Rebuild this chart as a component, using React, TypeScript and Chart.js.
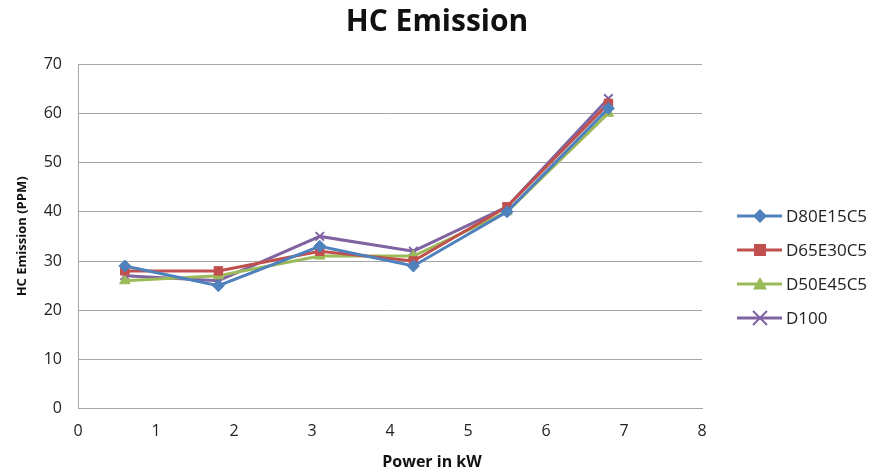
import React, { useEffect, useRef } from "react";
import { Chart, registerables } from "chart.js";

Chart.register(...registerables);

const powerKW = [0.6, 1.8, 3.1, 4.3, 5.5, 6.8];
const d80e15c5 = [29, 25, 33, 29, 40, 61];
const d65e30c5 = [28, 28, 32, 30, 41, 62];
const d50e45c5 = [26, 27, 31, 31, 40, 60];
const d100 = [27, 26, 35, 32, 41, 63];

const seriesNames = ["D80E15C5", "D65E30C5", "D50E45C5", "D100"];
const seriesValues = [d80e15c5, d65e30c5, d50e45c5, d100];
const seriesColors = ["#4F81BD", "#C0504D", "#9BBB59", "#8064A2"];
const seriesMarkers = ["rectRot", "rect", "triangle", "crossRot"];

const chartTitle = "HC Emission";
const xTitle = "Power in kW";
const yTitle = "HC Emission (PPM)";

const FONT = "'Open Sans', 'DejaVu Sans', sans-serif";

function drawMarker(ctx: CanvasRenderingContext2D, style: string, x: number, y: number, r: number, color: string) {
  ctx.save();
  ctx.fillStyle = color;
  ctx.strokeStyle = color;
  ctx.lineWidth = 2;
  ctx.beginPath();
  if (style === "rectRot") {
    ctx.moveTo(x, y - r);
    ctx.lineTo(x + r, y);
    ctx.lineTo(x, y + r);
    ctx.lineTo(x - r, y);
    ctx.closePath();
    ctx.fill();
  } else if (style === "rect") {
    ctx.rect(x - r, y - r, 2 * r, 2 * r);
    ctx.fill();
  } else if (style === "triangle") {
    ctx.moveTo(x, y - r);
    ctx.lineTo(x + r, y + r * 0.8);
    ctx.lineTo(x - r, y + r * 0.8);
    ctx.closePath();
    ctx.fill();
  } else {
    ctx.moveTo(x - r, y - r);
    ctx.lineTo(x + r, y + r);
    ctx.moveTo(x + r, y - r);
    ctx.lineTo(x - r, y + r);
    ctx.stroke();
  }
  ctx.restore();
}

const textPlugin = {
  id: "customText",
  afterDraw(chart: any) {
    const ctx = chart.ctx;
    const area = chart.chartArea;
    ctx.save();
    ctx.fillStyle = "#111";
    ctx.textAlign = "center";
    ctx.textBaseline = "middle";
    ctx.font = `bold 30px ${FONT}`;
    ctx.fillText(chartTitle, 437, 22);
    ctx.font = `bold 16px ${FONT}`;
    ctx.fillText(xTitle, 432, 462);
    ctx.save();
    ctx.translate(22, (area.top + area.bottom) / 2);
    ctx.rotate(-Math.PI / 2);
    ctx.font = `bold 13px ${FONT}`;
    ctx.fillText(yTitle, 0, 0);
    ctx.restore();
    const startY = 216;
    const gap = 34;
    chart.data.datasets.forEach((ds: any, i: number) => {
      const y = startY + i * gap;
      ctx.strokeStyle = ds.borderColor;
      ctx.lineWidth = 3;
      ctx.beginPath();
      ctx.moveTo(737, y);
      ctx.lineTo(782, y);
      ctx.stroke();
      drawMarker(ctx, ds.pointStyle, 760, y, ds.pointStyle === "rect" ? 6 : 7, ds.borderColor);
      ctx.fillStyle = "#222";
      ctx.font = `17px ${FONT}`;
      ctx.textBaseline = "middle";
      ctx.textAlign = "left";
      ctx.fillText(ds.label, 786, y + 1);
    });
    ctx.restore();
  },
};

export default function App() {
  const ref = useRef<HTMLCanvasElement>(null);
  useEffect(() => {
    document.body.style.margin = "0";
    const chart = new Chart(ref.current!, {
      type: "line",
      data: {
        datasets: seriesNames.map((name, i) => ({
          label: name,
          data: powerKW.map((x, j) => ({ x, y: seriesValues[i][j] })),
          borderColor: seriesColors[i],
          backgroundColor: seriesColors[i],
          pointStyle: seriesMarkers[i] as any,
          pointRadius: 6,
          pointBorderWidth: seriesMarkers[i] === "crossRot" ? 2 : 1,
          borderWidth: 3,
          tension: 0,
        })),
      },
      options: {
        animation: false,
        responsive: false,
        layout: { padding: { left: 14, right: 172, top: 64, bottom: 18 } },
        plugins: {
          legend: { display: false },
          tooltip: { enabled: false },
          title: { display: false },
        },
        scales: {
          x: {
            type: "linear",
            min: 0,
            max: 8,
            ticks: { stepSize: 1, color: "#222", font: { family: FONT, size: 16 }, padding: 13 },
            grid: { display: false, drawTicks: false },
            border: { color: "#A6A6A6", width: 1 },
          },
          y: {
            min: 0,
            max: 70,
            ticks: { stepSize: 10, color: "#222", font: { family: FONT, size: 16 }, padding: 16 },
            grid: { color: "#A6A6A6", drawTicks: false },
            border: { color: "#A6A6A6", width: 1 },
            afterFit(scale: any) {
              scale.width = 64;
            },
          },
        },
      },
      plugins: [textPlugin],
    });
    return () => chart.destroy();
  }, []);
  return (
    <div style={{ width: 874, height: 472, background: "#fff" }}>
      <canvas ref={ref} width={874} height={472} style={{ display: "block" }} />
    </div>
  );
}
